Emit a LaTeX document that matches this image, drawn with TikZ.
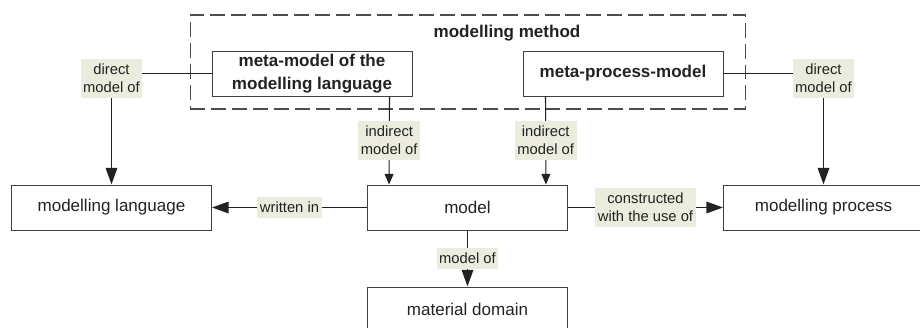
\documentclass[tikz,border=0pt]{standalone}
\usepackage{fontspec}
\setmainfont{Liberation Sans}
\usetikzlibrary{arrows.meta}
\definecolor{tagfill}{RGB}{235,235,222}
\definecolor{inkgray}{RGB}{34,34,34}
\tikzstyle{box} = [draw=black!75, line width=0.55pt, minimum width=4cm, minimum height=0.9cm, inner sep=0pt, text=inkgray, font=\fontsize{9.7}{11.6}\selectfont]
\tikzstyle{metabox} = [box, align=center, font=\fontsize{9.7}{13}\selectfont\bfseries]
\tikzstyle{tag} = [fill=tagfill, inner xsep=1.5pt, inner ysep=3pt, align=center, text=inkgray, font=\fontsize{8.4}{10.2}\selectfont]
\tikzstyle{arrow} = [line width=1.1pt, -{Triangle[length=9.5pt,width=6.5pt]}]
\tikzstyle{thinarrow} = [line width=0.65pt, -{Triangle[length=6pt,width=5pt]}]

\begin{document}
\begin{tikzpicture}[x=0.02cm, y=-0.02cm, inkgray]
        \useasboundingbox (0,0) rectangle (920,328);

        % Method frame
        \node[draw=black!70, line width=0.6pt, dash pattern=on 8.5pt off 3.4pt, minimum width=11.12cm, minimum height=1.88cm] (method) at (468,62) {};
        \node[text=inkgray, font=\fontsize{9.7}{11.6}\selectfont\bfseries] (methodname) at (507,33) {modelling method};

        % Boxes
        \node[metabox] (metalang) at (312,73.5) {meta-model of the\\modelling language};
        \node[metabox] (metaproc) at (623,73.5) {meta-process-model};
        \node[box] (lang) at (111.5,207.5) {modelling language};
        \node[box] (model) at (467.5,207.5) {model};
        \node[box] (proc) at (823.5,207.5) {modelling process};
        \node[box] (domain) at (467.5,309.5) {material domain};

        % Edges
        \draw[arrow] (metalang.west) -| node[tag, yshift=-2.8pt] {direct\\model of} (lang.north);
        \draw[arrow] (metaproc.east) -| node[tag, yshift=-2.8pt] {direct\\model of} (proc.north);
        \draw[thinarrow] ([xshift=-0.46cm]metalang.south east) -- ([xshift=0.44cm]model.north west) node[tag, midway] {indirect\\model of};
        \draw[thinarrow] ([xshift=0.46cm]metaproc.south west) -- ([xshift=-0.44cm]model.north east) node[tag, midway] {indirect\\model of};
        \draw[arrow] (model.west) -- node[tag] {written in} (lang.east);
        \draw[arrow] (model.east) -- node[tag] {constructed\\with the use of} (proc.west);
        \draw[arrow] (model.south) -- node[tag] {model of} (domain.north);
      \end{tikzpicture}
\end{document}
